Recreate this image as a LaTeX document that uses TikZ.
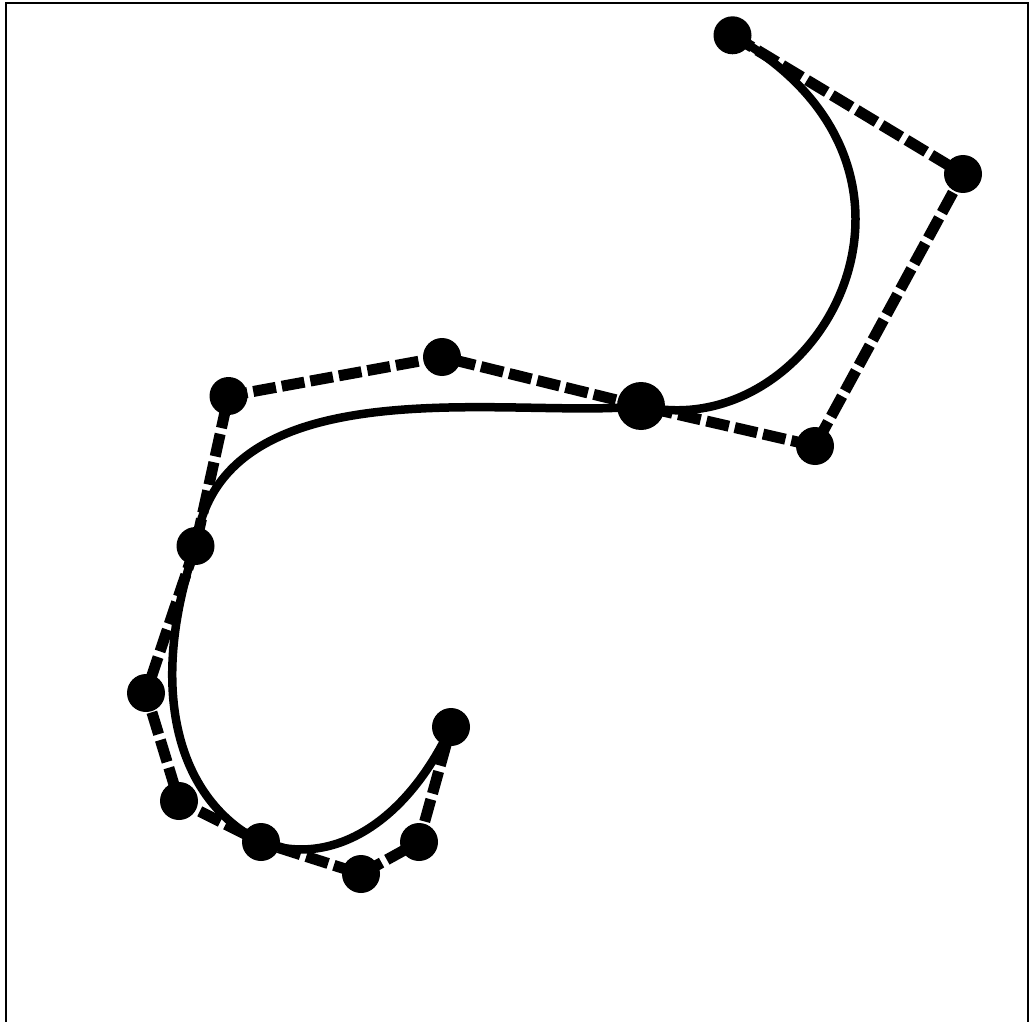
\documentclass[tikz,border=0pt]{standalone}
\begin{document}
\begin{tikzpicture}[x=1pt,y=-1pt,
  dot/.style={circle,fill=black,draw=none,inner sep=0pt,minimum size=38pt},
  bigdot/.style={circle,fill=black,draw=none,inner sep=0pt,minimum size=48pt},
  ctrl/.style={line width=11pt,dash pattern=on 23pt off 6pt},
  curve/.style={line width=8.5pt}]
\useasboundingbox (0,0) rectangle (1029,1022);
\begin{scope}
\clip (0,0) rectangle (1029,1022);
\draw[line width=2pt] (6,2.7) rectangle (1028.2,1040);
\end{scope}
\node[dot] (a) at (732.5,35.3) {};
\node[dot] (b) at (963,174) {};
\node[dot] (c) at (815,446) {};
\node[bigdot] (d) at (641,406) {};
\node[dot] (e) at (442,357) {};
\node[dot] (f) at (228.5,396) {};
\node[dot] (g) at (195.5,546) {};
\node[dot] (h) at (146,693) {};
\node[dot] (i) at (179,801) {};
\node[dot] (j) at (261,842) {};
\node[dot] (k) at (361,874) {};
\node[dot] (l) at (419,842) {};
\node[dot] (m) at (451,727) {};
\draw[ctrl] (a.center) -- (b.center) -- (c.center) -- (d.center) -- (e.center) -- (f.center) -- (g.center) -- (h.center) -- (i.center) -- (j.center) -- (k.center) -- (l.center) -- (m.center);
\draw[curve] (a.center) .. controls (972,170) and (818,448) .. (d.center)
  .. controls (520,420) and (220,360) .. (g.center)
  .. controls (h.center) and (i.center) .. (j.center)
  .. controls (330,868) and (405,825) .. (m.center);
\end{tikzpicture}
\end{document}
